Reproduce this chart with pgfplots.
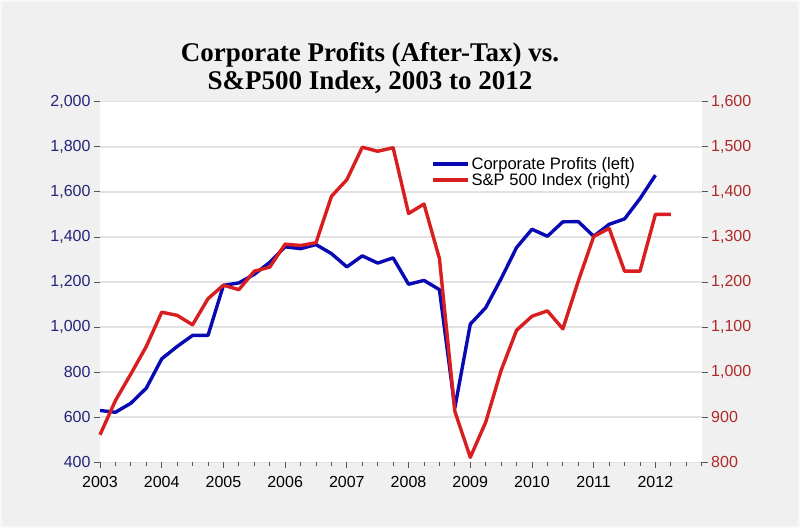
\documentclass[border=0pt]{standalone}
\usepackage{fontspec}
\setmainfont{Liberation Sans}
\newfontfamily\titlefont{Liberation Serif}
\usepackage{pgfplots}
\pgfplotsset{compat=1.18}
\definecolor{bg}{HTML}{F0F0F0}
\definecolor{gridc}{HTML}{E2E2E2}
\definecolor{cpblue}{HTML}{0A0AB4}
\definecolor{spred}{HTML}{D81E1E}
\definecolor{lefttick}{HTML}{242478}
\definecolor{righttick}{HTML}{B02828}
\definecolor{tickc}{HTML}{555555}

\pgfplotstableread{
x y
2003.00 630
2003.25 622
2003.50 662
2003.75 729
2004.00 859
2004.25 914
2004.50 963
2004.75 963
2005.00 1185
2005.25 1196
2005.50 1234
2005.75 1287
2006.00 1356
2006.25 1348
2006.50 1366
2006.75 1326
2007.00 1267
2007.25 1316
2007.50 1284
2007.75 1307
2008.00 1190
2008.25 1207
2008.50 1166
2008.75 642
2009.00 1013
2009.25 1086
2009.50 1215
2009.75 1353
2010.00 1434
2010.25 1403
2010.50 1467
2010.75 1468
2011.00 1403
2011.25 1456
2011.50 1480
2011.75 1570
2012.00 1674
}\profits

\pgfplotstableread{
x y
2003.00 861
2003.25 937
2003.50 996
2003.75 1057
2004.00 1133
2004.25 1126
2004.50 1105
2004.75 1163
2005.00 1193
2005.25 1183
2005.50 1224
2005.75 1233
2006.00 1284
2006.25 1281
2006.50 1287
2006.75 1390
2007.00 1427
2007.25 1499
2007.50 1490
2007.75 1498
2008.00 1352
2008.25 1373
2008.50 1252
2008.75 913
2009.00 811
2009.25 889
2009.50 1004
2009.75 1093
2010.00 1124
2010.25 1136
2010.50 1096
2010.75 1202
2011.00 1301
2011.25 1319
2011.50 1224
2011.75 1224
2012.00 1350
2012.25 1350
}\spx

\begin{document}
\begin{tikzpicture}[x=1pt,y=1pt]
\fill[bg] (0,0) rectangle (800,528);
\draw[white!60!bg, line width=2pt] (1,1) rectangle (799,527);
\node[font=\titlefont\bfseries\fontsize{27}{30}\selectfont, anchor=base] at (370,466.3) {Corporate Profits (After-Tax) vs.};
\node[font=\titlefont\bfseries\fontsize{27}{30}\selectfont, anchor=base] at (370,438) {S\&P500 Index, 2003 to 2012};

\pgfplotsset{
  common/.style={
    at={(100pt,65.7pt)}, anchor=south west,
    width=601.7pt, height=360.6pt, scale only axis,
    xmin=2003, xmax=2012.75,
    xtick={2003,2004,...,2012},
    minor xtick={2003.25,2003.5,2003.75,2004.25,2004.5,2004.75,2005.25,2005.5,2005.75,2006.25,2006.5,2006.75,2007.25,2007.5,2007.75,2008.25,2008.5,2008.75,2009.25,2009.5,2009.75,2010.25,2010.5,2010.75,2011.25,2011.5,2011.75,2012.25,2012.5,2012.75},
    tick align=outside,
    major tick length=6pt, minor tick length=3.5pt,
    tick style={tickc, line width=0.8pt},
    axis line style={draw=none},
    font=\fontsize{16}{19}\selectfont,
    scaled ticks=false,
    /pgf/number format/1000 sep={,},
    /pgf/number format/assume math mode=true,
    xticklabel style={/pgf/number format/1000 sep={}, black, yshift=-4pt},
    clip=false,
  }
}

\begin{axis}[common,
  ymin=400, ymax=2000, ytick={400,600,...,2000},
  axis x line*=bottom, axis y line*=left,
  ymajorgrids, grid style={gridc, line width=1.5pt},
  axis background/.style={fill=white},
  yticklabel style={lefttick},
]
\addplot[cpblue, line width=3.4pt, line join=round] table[x=x,y=y] {\profits};
\end{axis}

\begin{axis}[common,
  ymin=800, ymax=1600, ytick={800,900,...,1600},
  axis x line=none, axis y line*=right,
  yticklabel style={righttick},
  legend style={draw=none, fill=none, at={(0.545,0.858)}, anchor=north west,
    font=\fontsize{16.6}{19}\selectfont, row sep=-1.5pt},
  legend cell align=left,
  legend image code/.code={\draw[#1] (0pt,0pt) -- (35pt,0pt);},
]
\addlegendimage{cpblue, line width=3.4pt}
\addlegendentry{Corporate Profits (left)}
\addplot[spred, line width=3.4pt, line join=round] table[x=x,y=y] {\spx};
\addlegendentry{S\&P 500 Index (right)}
\end{axis}
\end{tikzpicture}
\end{document}
